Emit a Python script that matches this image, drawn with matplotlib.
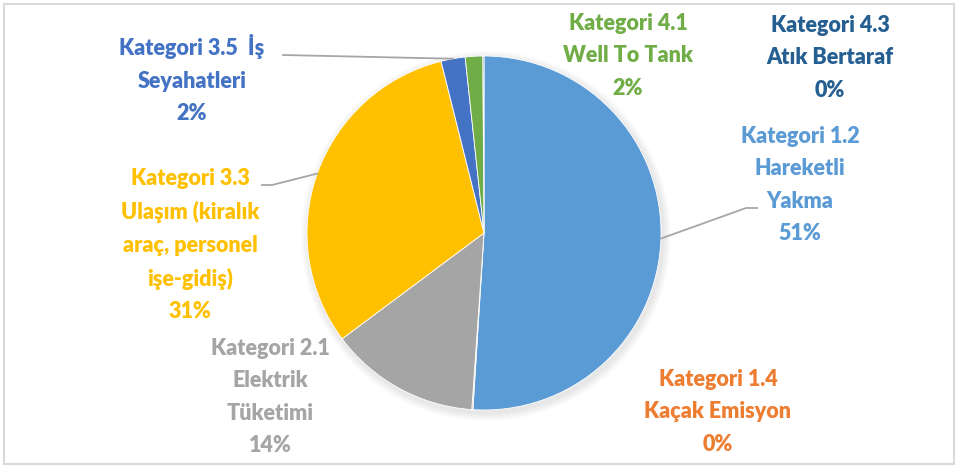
import matplotlib.pyplot as plt
import numpy as np
from matplotlib.patches import Rectangle, Circle

# data
labels = ["Kategori 1.2\nHareketli\nYakma", "Kategori 1.4\nKaçak Emisyon", "Kategori 2.1\nElektrik\nTüketimi",
          "Kategori 3.3\nUlaşım (kiralık\naraç, personel\nişe-gidiş)", "Kategori 3.5  İş\nSeyahatleri",
          "Kategori 4.1\nWell To Tank", "Kategori 4.3\nAtık Bertaraf"]
values = [51.0, 0.1, 13.7, 31.3, 2.2, 1.6, 0.1]
colors = ["#5B9BD5", "#ED7D31", "#A5A5A5", "#FFC000", "#4472C4", "#70AD47", "#255E91"]

W, H = 956, 468
cx, cy, r = 484, H - 233, 177

# label centres in pixels (x, y from top) and leader line start points
label_pos = [(800, 185), (718, 412), (270, 397), (190, 245), (192, 79), (628, 56), (830, 58)]
leader = [(757, 208), None, None, (262, 185), (283, 55), None, None]

plt.rcParams['font.family'] = ['Lato', 'DejaVu Sans']
fig = plt.figure(figsize=(W / 100, H / 100), dpi=100)
ax = fig.add_axes([0, 0, 1, 1])

# border
ax.add_patch(Rectangle((4, 4), W - 6, H - 8, fill=False, edgecolor="#D9D9D9", lw=1.5))

# soft shadow
for k in range(8):
    ax.add_patch(Circle((cx + 2, cy - 3), r + 8 - k, color="#000000", alpha=0.012, lw=0))

wedges, _ = ax.pie(values, colors=colors, startangle=90, counterclock=False,
                   center=(cx, cy), radius=r, frame=True,
                   wedgeprops=dict(edgecolor="white", linewidth=0.6))
ax.set_xlim(0, W)
ax.set_ylim(0, H)
ax.set_aspect('equal')
ax.axis('off')

total = sum(values)
for i, (lab, v) in enumerate(zip(labels, values)):
    tx, ty = label_pos[i]
    pct = "%d%%" % round(v / total * 100)
    ax.text(tx, H - ty, lab + "\n" + pct, color=colors[i], fontsize=15.5, fontweight='heavy',
            ha='center', va='center', linespacing=1.68)
    if leader[i] is not None:
        w = wedges[i]
        mid = np.deg2rad((w.theta1 + w.theta2) / 2)
        ex, ey = cx + r * np.cos(mid), cy + r * np.sin(mid)
        lx, ly = leader[i]
        if i == 0:
            xs, ys = [lx, lx - 11, ex], [H - ly, H - ly, ey]
        elif i == 3:
            xs, ys = [lx, lx + 10, ex], [H - ly, H - ly, ey]
        else:
            xs, ys = [lx, ex], [H - ly, ey]
        ax.plot(xs, ys, color="#A6A6A6", lw=1.3)

fig.savefig("out.png", dpi=100)
